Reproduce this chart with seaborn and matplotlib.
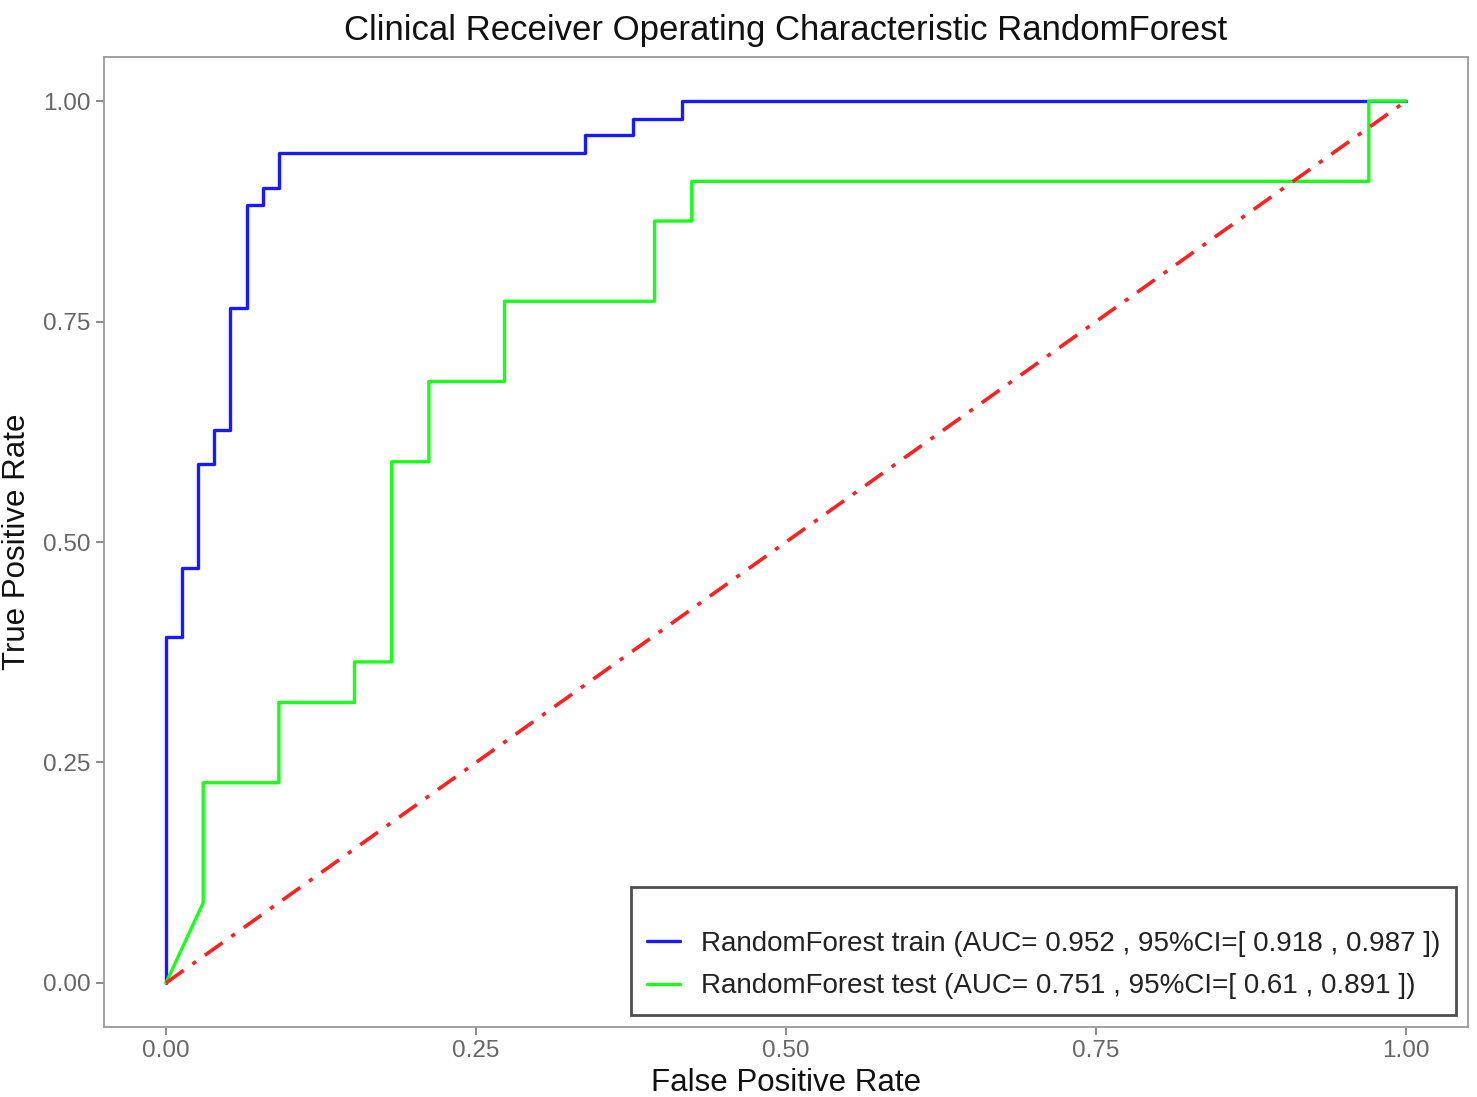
import numpy as np
import pandas as pd
import matplotlib
matplotlib.use("Agg")
import matplotlib.pyplot as plt
import seaborn as sns

# ROC vertices
train_fpr = [0.0, 0.0, 0.013, 0.013, 0.026, 0.026, 0.039, 0.039, 0.052, 0.052,
             0.065, 0.065, 0.078, 0.078, 0.091, 0.091, 0.338, 0.338, 0.377, 0.377,
             0.416, 0.416, 1.0]
train_tpr = [0.0, 0.392, 0.392, 0.471, 0.471, 0.588, 0.588, 0.627, 0.627, 0.765,
             0.765, 0.882, 0.882, 0.902, 0.902, 0.941, 0.941, 0.961, 0.961, 0.980,
             0.980, 1.0, 1.0]
test_fpr = [0.0, 0.030, 0.030, 0.091, 0.091, 0.152, 0.152, 0.182, 0.182, 0.212,
            0.212, 0.273, 0.273, 0.394, 0.394, 0.424, 0.424, 0.970, 0.970, 1.0]
test_tpr = [0.0, 0.091, 0.227, 0.227, 0.318, 0.318, 0.364, 0.364, 0.591, 0.591,
            0.682, 0.682, 0.773, 0.773, 0.864, 0.864, 0.909, 0.909, 1.0, 1.0]
diag_x = [0.0, 1.0]
diag_y = [0.0, 1.0]

train_label = "RandomForest train (AUC= 0.952 , 95%CI=[ 0.918 , 0.987 ])"
test_label = "RandomForest test (AUC= 0.751 , 95%CI=[ 0.61 , 0.891 ])"
title = "Clinical Receiver Operating Characteristic RandomForest"
ticks = [0.0, 0.25, 0.5, 0.75, 1.0]
tick_labels = ["0.00", "0.25", "0.50", "0.75", "1.00"]

sns.set_theme(style="white")
plt.rcParams['font.family'] = ['Liberation Sans', 'DejaVu Sans']

fig = plt.figure(figsize=(14.77, 10.97), dpi=100)
ax = fig.add_axes([104/1477, 1-1027/1097, (1468-104)/1477, (1027-57)/1097])

df_train = pd.DataFrame({"fpr": train_fpr, "tpr": train_tpr})
df_test = pd.DataFrame({"fpr": test_fpr, "tpr": test_tpr})
sns.lineplot(data=df_train, x="fpr", y="tpr", sort=False, estimator=None,
             color="#1a1aff", linewidth=2.4, label=train_label, ax=ax)
sns.lineplot(data=df_test, x="fpr", y="tpr", sort=False, estimator=None,
             color="#1aff1a", linewidth=2.4, label=test_label, ax=ax)
ax.plot(diag_x, diag_y, color="#ff2020", linewidth=2.6, linestyle=(0, (6, 3, 1.2, 3)))

ax.set_xlim(-0.05, 1.05)
ax.set_ylim(-0.05, 1.05)
ax.set_xticks(ticks)
ax.set_xticklabels(tick_labels)
ax.set_yticks(ticks)
ax.set_yticklabels(tick_labels)
ax.tick_params(axis="both", which="both", length=5.5, width=1.2, color="#777777",
               labelsize=17.5, labelcolor="#666666", pad=4, bottom=True, left=True)
for s in ax.spines.values():
    s.set_color("#9a9a9a")
    s.set_linewidth(1.3)
ax.grid(False)

ax.set_xlabel("False Positive Rate", fontsize=22.5, color="#111111", labelpad=4)
ax.set_ylabel("True Positive Rate", fontsize=22.5, color="#111111", labelpad=8)
ax.set_title(title, fontsize=25, color="#111111", pad=12)

leg = ax.legend(loc="lower right", title=" ", fontsize=20, title_fontsize=9,
                frameon=True, fancybox=False, edgecolor="#222222",
                handlelength=1.2, handletextpad=0.75, borderpad=0.55,
                labelspacing=0.6, borderaxespad=0.45)
leg.get_frame().set_linewidth(2)
for t in leg.get_texts():
    t.set_color("#222222")

fig.savefig("out.png", dpi=100, facecolor="white")
